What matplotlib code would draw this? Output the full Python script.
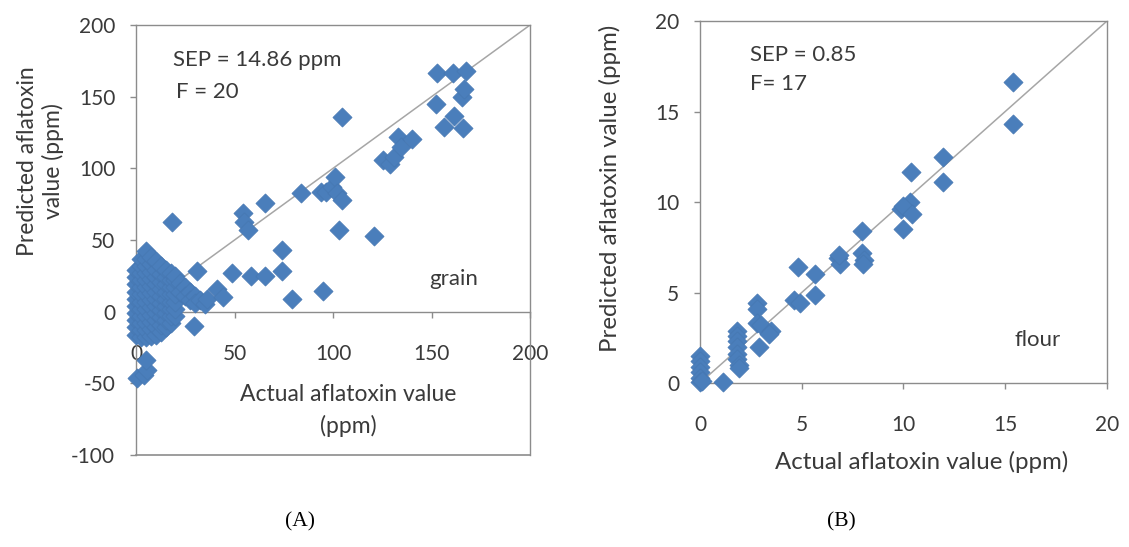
import matplotlib
matplotlib.use("Agg")
import matplotlib.pyplot as plt
from matplotlib.ticker import FixedLocator

plt.rcParams['font.family'] = ['Lato', 'DejaVu Sans']
plt.rcParams['axes.unicode_minus'] = False

# ---------------- Panel A (grain) data ----------------
grain_actual = [
    # dense low-level cluster (column by column)
    0, 0, 0, 0, 0, 0, 0, 0, 0, 0,
    2.5, 2.5, 2.5, 2.5, 2.5, 2.5, 2.5, 2.5, 2.5, 2.5, 2.5, 2.5,
    5, 5, 5, 5, 5, 5, 5, 5, 5, 5, 5, 5, 5,
    7.5, 7.5, 7.5, 7.5, 7.5, 7.5, 7.5, 7.5, 7.5, 7.5, 7.5, 7.5,
    10, 10, 10, 10, 10, 10, 10, 10, 10, 10, 10,
    12.5, 12.5, 12.5, 12.5, 12.5, 12.5, 12.5, 12.5, 12.5, 12.5,
    15, 15, 15, 15, 15, 15, 15, 15, 15,
    17.5, 17.5, 17.5, 17.5, 17.5, 17.5, 17.5, 17.5,
    20, 20, 20, 20, 20, 20, 20,
    # tail of the cluster
    22.5, 22.5, 25, 25, 27.5, 27.5, 30, 30, 32.5, 35,
    # negative outliers
    0.4, 4, 5.8, 4.9,
    # scattered points
    18.1, 29.4, 30.9, 35.8, 41.2, 43.9, 48.5, 54.4, 54.8, 56.6,
    58.4, 65.7, 65.3, 73.9, 74.3, 79.3, 83.8, 93.8, 94.7, 96.5,
    99.5, 101, 102, 102.9, 104.7, 104.7, 121, 125.6, 129, 131,
    132.8, 134.7, 140, 152.5, 153, 156.4, 161, 161.5, 165.5, 166.4,
    166, 167.3,
]
grain_predicted = [
    -16, -11, -6, -1, 4, 9, 14, 19, 24, 29,
    -18, -13, -8, -3, 2, 7, 12, 17, 22, 27, 32, 37,
    -18, -13, -8, -3, 2, 7, 12, 17, 22, 27, 32, 37, 42,
    -17, -12, -7, -2, 3, 8, 13, 18, 23, 28, 33, 38,
    -16, -11, -6, -1, 4, 9, 14, 19, 24, 29, 35,
    -14, -9, -4, 1, 6, 11, 16, 21, 26, 32,
    -11, -6, -1, 4, 9, 14, 19, 24, 29,
    -8, -3, 2, 7, 12, 17, 22, 27,
    -3, 2, 7, 12, 17, 22, 25,
    20, 14, 17, 11, 14, 8, 11, 6, 8, 5,
    -46.5, -44, -40.8, -33.9,
    62.9, -9.7, 28.3, 8.8, 15.7, 9.9, 27.2, 68.7, 62.9, 57.1,
    24.9, 24.9, 75.6, 43.3, 28.3, 8.8, 82.5, 83.6, 14.5, 83.6,
    87, 94, 82.5, 57.1, 77.9, 135.5, 52.5, 106, 103.2, 107.8,
    121.7, 114.7, 120.5, 144.7, 166.6, 128.6, 166.6, 136.6, 150, 155,
    127.9, 167.7,
]

# ---------------- Panel B (flour) data ----------------
flour_actual = [
    0, 0, 0, 0, 0, 0, 0.1,
    1.13,
    1.8, 1.8, 1.8, 1.8, 1.8, 1.8, 1.9, 1.9,
    2.81, 2.81, 2.81, 3.0, 2.9, 3.48, 3.39,
    4.63, 4.9, 4.84, 5.65, 5.65,
    6.8, 6.9, 6.85,
    7.95, 7.95, 8.07, 8.0,
    10.0, 9.9, 10.3, 10.0, 10.4, 10.37,
    11.93, 11.93,
    15.37, 15.37,
]
flour_predicted = [
    1.5, 1.2, 0.9, 0.6, 0.3, 0.05, 0.1,
    0.05,
    2.9, 2.6, 2.3, 2.0, 1.6, 1.3, 1.0, 0.85,
    4.4, 4.1, 3.3, 3.2, 2.0, 2.9, 2.7,
    4.57, 4.4, 6.4, 6.0, 4.85,
    6.9, 6.6, 7.05,
    8.4, 7.2, 6.8, 6.6,
    8.5, 9.6, 10.0, 9.8, 9.35, 11.65,
    12.5, 11.1,
    16.63, 14.3,
]

grain_ticks_x = [0, 50, 100, 150, 200]
grain_ticks_y = [-100, -50, 0, 50, 100, 150, 200]
flour_ticks = [0, 5, 10, 15, 20]

MARKER_COLOR = '#4A7EBB'
EDGE_COLOR = '#4677B2'
LINE_COLOR = '#A6A6A6'
AXIS_COLOR = '#8C8C8C'
TEXT_COLOR = '#3A3A3A'
MSIZE = 95
TICK_FS = 15
LABEL_FS_A = 16.5
LABEL_FS_B = 17.3
NOTE_FS = 16

fig = plt.figure(figsize=(11.29, 5.47), dpi=100)
fig.patch.set_facecolor('white')

# ---------- Panel A ----------
axA = fig.add_axes([0.1205, 0.1682, 0.349, 0.7861])
axA.set_xlim(0, 200)
axA.set_ylim(-100, 200)
axA.plot([0, 200], [0, 200], color=LINE_COLOR, lw=1.1, zorder=1)
axA.scatter(grain_actual, grain_predicted, marker='D', s=MSIZE,
            color=MARKER_COLOR, edgecolors=EDGE_COLOR, linewidths=0.5,
            zorder=3, clip_on=False)
axA.spines['bottom'].set_position(('data', 0))
for sp in axA.spines.values():
    sp.set_color(AXIS_COLOR)
    sp.set_linewidth(1.0)
axA.plot([0, 1], [0, 0], transform=axA.transAxes, color=AXIS_COLOR,
         lw=1.2, clip_on=False, zorder=2)
axA.xaxis.set_major_locator(FixedLocator(grain_ticks_x))
axA.yaxis.set_major_locator(FixedLocator(grain_ticks_y))
axA.set_xticklabels([str(t) for t in grain_ticks_x])
axA.set_yticklabels([str(t) for t in grain_ticks_y])
axA.tick_params(axis='both', colors=AXIS_COLOR, labelcolor=TEXT_COLOR,
                labelsize=TICK_FS, length=4, width=1, direction='out')
axA.tick_params(axis='x', pad=19)
axA.tick_params(axis='y', pad=11)
axA.text(19, 175.5, 'SEP = 14.86 ppm', fontsize=NOTE_FS, color=TEXT_COLOR,
         va='center', ha='left')
axA.text(20.5, 153, 'F = 20', fontsize=NOTE_FS, color=TEXT_COLOR,
         va='center', ha='left')
axA.text(161.4, 23, 'grain', fontsize=NOTE_FS, color=TEXT_COLOR,
         va='center', ha='center')
axA.text(107.6, -69, 'Actual aflatoxin value\n(ppm)', fontsize=LABEL_FS_A,
         color=TEXT_COLOR, va='center', ha='center', linespacing=1.55)
fig.text(0.036, 0.705, 'Predicted aflatoxin\nvalue (ppm)', rotation=90,
         fontsize=LABEL_FS_A, color=TEXT_COLOR, va='center', ha='center',
         linespacing=1.25)

# ---------- Panel B ----------
axB = fig.add_axes([0.620, 0.2998, 0.3605, 0.6618])
axB.set_xlim(0, 20)
axB.set_ylim(0, 20)
axB.plot([0, 20], [0, 20], color=LINE_COLOR, lw=1.1, zorder=1)
axB.scatter(flour_actual, flour_predicted, marker='D', s=MSIZE,
            color=MARKER_COLOR, edgecolors=EDGE_COLOR, linewidths=0.5,
            zorder=3, clip_on=False)
for sp in axB.spines.values():
    sp.set_color(AXIS_COLOR)
    sp.set_linewidth(1.0)
axB.xaxis.set_major_locator(FixedLocator(flour_ticks))
axB.yaxis.set_major_locator(FixedLocator(flour_ticks))
axB.set_xticklabels([str(t) for t in flour_ticks])
axB.set_yticklabels([str(t) for t in flour_ticks])
axB.tick_params(axis='both', colors=AXIS_COLOR, labelcolor=TEXT_COLOR,
                labelsize=TICK_FS, length=4, width=1, direction='out')
axB.tick_params(axis='x', pad=19)
axB.tick_params(axis='y', pad=11)
axB.text(2.45, 18.1, 'SEP = 0.85', fontsize=NOTE_FS, color=TEXT_COLOR,
         va='center', ha='left')
axB.text(2.45, 16.5, 'F= 17', fontsize=NOTE_FS, color=TEXT_COLOR,
         va='center', ha='left')
axB.text(16.6, 2.35, 'flour', fontsize=NOTE_FS, color=TEXT_COLOR,
         va='center', ha='center')
fig.text(0.8167, 0.1554, 'Actual aflatoxin value (ppm)', fontsize=LABEL_FS_B,
         color=TEXT_COLOR, va='center', ha='center')
fig.text(0.540, 0.655, 'Predicted aflatoxin value (ppm)', rotation=90,
         fontsize=LABEL_FS_B, color=TEXT_COLOR, va='center', ha='center')

# ---------- panel captions ----------
fig.text(0.2657, 0.0457, '(A)', fontsize=15.5, family='Liberation Serif',
         color='black', va='center', ha='center')
fig.text(0.745, 0.0457, '(B)', fontsize=15.5, family='Liberation Serif',
         color='black', va='center', ha='center')

fig.savefig('out.png', dpi=100, facecolor='white')
